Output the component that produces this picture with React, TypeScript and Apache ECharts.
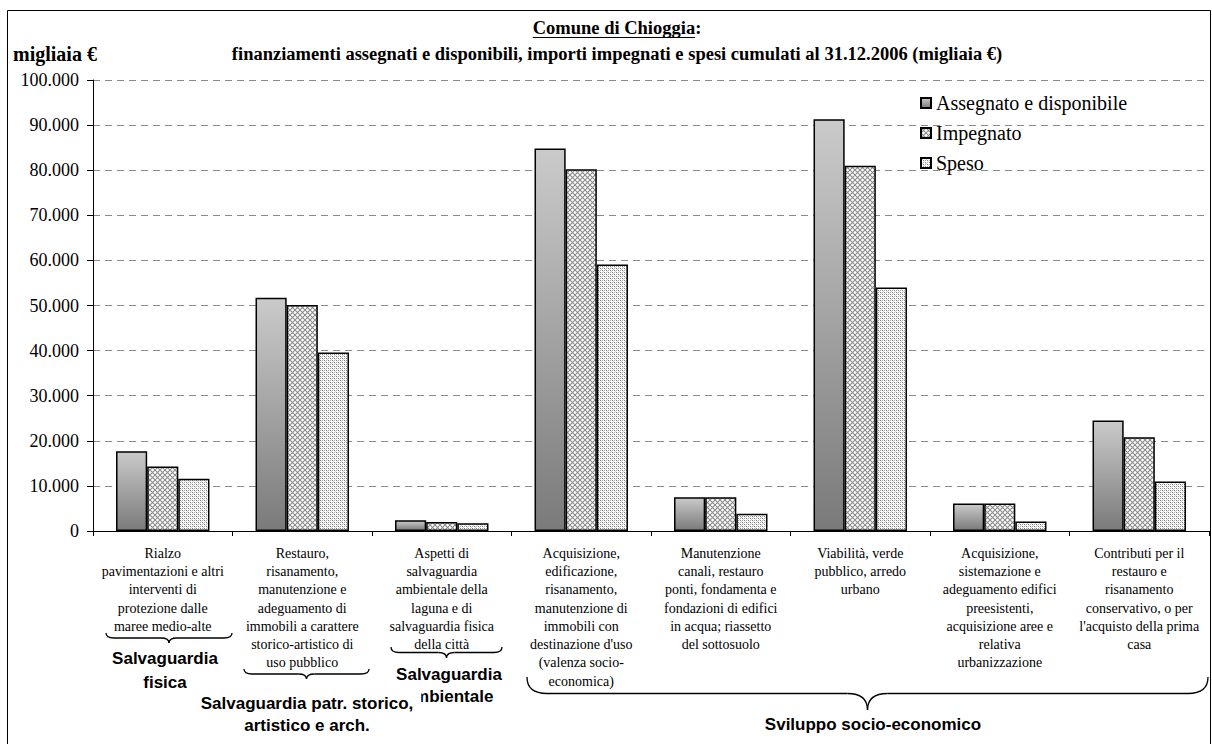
import React, { useEffect, useRef } from "react";
import * as echarts from "echarts";

const categories = [
  "Rialzo\npavimentazioni e altri\ninterventi di\nprotezione dalle\nmaree medio-alte",
  "Restauro,\nrisanamento,\nmanutenzione e\nadeguamento di\nimmobili a carattere\nstorico-artistico di\nuso pubblico",
  "Aspetti di\nsalvaguardia\nambientale della\nlaguna e di\nsalvaguardia fisica\ndella città",
  "Acquisizione,\nedificazione,\nrisanamento,\nmanutenzione di\nimmobili con\ndestinazione d'uso\n(valenza socio-\neconomica)",
  "Manutenzione\ncanali, restauro\nponti, fondamenta e\nfondazioni di edifici\nin acqua; riassetto\ndel sottosuolo",
  "Viabilità, verde\npubblico, arredo\nurbano",
  "Acquisizione,\nsistemazione e\nadeguamento edifici\npreesistenti,\nacquisizione aree e\nrelativa\nurbanizzazione",
  "Contributi per il\nrestauro e\nrisanamento\nconservativo, o per\nl'acquisto della prima\ncasa",
];

const seriesNames = ["Assegnato e disponibile", "Impegnato", "Speso"];
const assegnato = [17700, 51700, 2400, 84800, 7500, 91300, 6100, 24500];
const impegnato = [14300, 50100, 2000, 80200, 7500, 81000, 6100, 20800];
const speso = [11600, 39600, 1700, 59100, 3800, 54000, 2100, 11000];

const yMin = 0;
const yMax = 100000;
const yInterval = 10000;

const titleLine1 = "Comune di Chioggia:";
const titleUnderlined = "Comune di Chioggia";
const titleLine2 =
  "finanziamenti assegnati e disponibili, importi impegnati e spesi cumulati al 31.12.2006 (migliaia €)";
const yUnit = "migliaia €";

const groupFisica = "Salvaguardia\nfisica";
const groupStorico = "Salvaguardia patr. storico,\nartistico e arch.";
const groupAmbientale = "Salvaguardia\nambientale";
const groupSviluppo = "Sviluppo socio-economico";

function fmt(v: number) {
  if (v === 0) return "0";
  return String(v).replace(/\B(?=(\d{3})+(?!\d))/g, ".");
}

function makeCross() {
  const c = document.createElement("canvas");
  c.width = 5;
  c.height = 5;
  const g = c.getContext("2d")!;
  g.fillStyle = "#ffffff";
  g.fillRect(0, 0, 5, 5);
  g.strokeStyle = "#8c8c8c";
  g.lineWidth = 1.1;
  g.beginPath();
  g.moveTo(0, 0);
  g.lineTo(5, 5);
  g.moveTo(5, 0);
  g.lineTo(0, 5);
  g.stroke();
  return c;
}

function makeDots() {
  const c = document.createElement("canvas");
  c.width = 4;
  c.height = 4;
  const g = c.getContext("2d")!;
  g.fillStyle = "#ffffff";
  g.fillRect(0, 0, 4, 4);
  g.fillStyle = "#7c7c7c";
  g.fillRect(0, 0, 1, 1);
  g.fillRect(2, 2, 1, 1);
  g.fillStyle = "#a4a4a4";
  g.fillRect(2, 0, 1, 1);
  g.fillRect(0, 2, 1, 1);
  g.fillStyle = "#cfcfcf";
  g.fillRect(1, 1, 1, 1);
  g.fillRect(3, 3, 1, 1);
  return c;
}

function brace(x1: number, x2: number, y0: number, h: number, r: number) {
  const ym = y0 + h * 0.5;
  const tip = y0 + h;
  const xc = (x1 + x2) / 2;
  const st = { stroke: "#000", lineWidth: 1.3, fill: null as any };
  return {
    type: "group",
    silent: true,
    children: [
      { type: "bezierCurve", shape: { x1: x1, y1: y0, cpx1: x1, cpy1: ym, x2: x1 + r, y2: ym }, style: st },
      { type: "line", shape: { x1: x1 + r, y1: ym, x2: xc - r, y2: ym }, style: st },
      { type: "bezierCurve", shape: { x1: xc - r, y1: ym, cpx1: xc, cpy1: ym, x2: xc, y2: tip }, style: st },
      { type: "bezierCurve", shape: { x1: xc, y1: tip, cpx1: xc, cpy1: ym, x2: xc + r, y2: ym }, style: st },
      { type: "line", shape: { x1: xc + r, y1: ym, x2: x2 - r, y2: ym }, style: st },
      { type: "bezierCurve", shape: { x1: x2 - r, y1: ym, cpx1: x2, cpy1: ym, x2: x2, y2: y0 }, style: st },
    ],
  };
}

export default function App() {
  const ref = useRef<HTMLDivElement>(null);

  useEffect(() => {
    const el = ref.current!;
    const chart = echarts.init(el, null, { renderer: "svg" });

    const serif = "'Liberation Serif', 'Times New Roman', serif";

    const measure = (t: string, font: string) => {
      const c = document.createElement("canvas").getContext("2d")!;
      c.font = font;
      return c.measureText(t).width;
    };
    const titleFont = "bold 18.5px 'Liberation Serif'";
    const titleCx = 617;
    const w1 = measure(titleLine1, titleFont);
    const wu = measure(titleUnderlined, titleFont);
    const ulStart = titleCx - w1 / 2;

    const gradient = new echarts.graphic.LinearGradient(0, 0, 0, 1, [
      { offset: 0, color: "#cacaca" },
      { offset: 1, color: "#7a7a7a" },
    ]);
    const cross = { image: makeCross(), repeat: "repeat" } as any;
    const dots = { image: makeDots(), repeat: "repeat" } as any;

    const barStyle = (color: any) => ({ color, borderColor: "#000", borderWidth: 1.5 });
    const groupFont = "bold 17px 'Liberation Sans'";

    chart.setOption({
      animation: false,
      backgroundColor: "#ffffff",
      grid: { left: 93, right: 3, top: 80, bottom: 213, containLabel: false },
      legend: {
        orient: "vertical",
        left: 920,
        top: 93,
        itemWidth: 10,
        itemHeight: 10,
        itemGap: 10,
        icon: "rect",
        padding: 0,
        textStyle: { fontFamily: serif, fontSize: 20, color: "#000" },
        data: seriesNames,
      },
      xAxis: {
        type: "category",
        data: categories,
        boundaryGap: true,
        axisLine: { show: true, lineStyle: { color: "#000", width: 1 } },
        axisTick: { show: true, alignWithLabel: false, length: 5, lineStyle: { color: "#000" } },
        axisLabel: {
          interval: 0,
          margin: 13,
          fontFamily: serif,
          fontSize: 14,
          lineHeight: 18.3,
          color: "#000",
        },
      },
      yAxis: {
        type: "value",
        min: yMin,
        max: yMax,
        interval: yInterval,
        axisLine: { show: true, lineStyle: { color: "#000", width: 1 } },
        axisTick: { show: true, inside: false, length: 6, lineStyle: { color: "#000" } },
        axisLabel: {
          formatter: (v: number) => fmt(v),
          fontFamily: serif,
          fontSize: 18,
          color: "#000",
          margin: 14,
        },
        splitLine: { show: true, lineStyle: { color: "#8a8a8a", width: 1, type: [7, 5] } },
      },
      series: [
        { name: seriesNames[0], type: "bar", data: assegnato, barGap: "0%", barCategoryGap: "33%", itemStyle: barStyle(gradient) },
        { name: seriesNames[1], type: "bar", data: impegnato, barGap: "0%", barCategoryGap: "33%", itemStyle: barStyle(cross) },
        { name: seriesNames[2], type: "bar", data: speso, barGap: "0%", barCategoryGap: "33%", itemStyle: barStyle(dots) },
      ],
      graphic: [
        {
          type: "rect",
          silent: true,
          shape: { x: 7.5, y: 10.5, width: 1203, height: 760 },
          style: { fill: null, stroke: "#000", lineWidth: 1 },
          z: 100,
        },
        {
          type: "text",
          x: titleCx,
          y: 28,
          style: { text: titleLine1, font: titleFont, fill: "#000", textAlign: "center", textVerticalAlign: "middle" },
        },
        {
          type: "line",
          silent: true,
          shape: { x1: ulStart, y1: 37.5, x2: ulStart + wu, y2: 37.5 },
          style: { stroke: "#000", lineWidth: 1 },
        },
        {
          type: "text",
          x: titleCx,
          y: 54,
          style: { text: titleLine2, font: titleFont, fill: "#000", textAlign: "center", textVerticalAlign: "middle" },
        },
        {
          type: "text",
          x: 13,
          y: 54,
          style: { text: yUnit, font: "bold 20px 'Liberation Serif'", fill: "#000", textAlign: "left", textVerticalAlign: "middle" },
        },
        brace(106, 232, 633, 10, 8),
        brace(244, 369, 669, 10, 8),
        brace(391, 502, 647, 11, 8),
        brace(527, 1208, 677, 33, 20),
        {
          type: "text",
          x: 165,
          y: 670,
          style: {
            text: groupFisica,
            font: groupFont,
            lineHeight: 24,
            fill: "#000",
            textAlign: "center",
            textVerticalAlign: "middle",
          },
        },
        {
          type: "text",
          x: 449,
          y: 685,
          style: {
            text: groupAmbientale,
            font: groupFont,
            lineHeight: 22,
            fill: "#000",
            textAlign: "center",
            textVerticalAlign: "middle",
          },
        },
        {
          type: "text",
          x: 310,
          y: 714,
          z: 10,
          style: {
            text: groupStorico,
            font: groupFont,
            lineHeight: 22,
            fill: "#000",
            textAlign: "center",
            textVerticalAlign: "middle",
            backgroundColor: "#ffffff",
            padding: [6, 8, 2, 2],
          },
        },
        {
          type: "text",
          x: 873,
          y: 724,
          style: {
            text: groupSviluppo,
            font: groupFont,
            fill: "#000",
            textAlign: "center",
            textVerticalAlign: "middle",
          },
        },
      ],
    });

    return () => {
      chart.dispose();
    };
  }, []);

  return (
    <div
      ref={ref}
      style={{ position: "absolute", left: 0, top: 0, width: 1212, height: 744, background: "#fff" }}
    />
  );
}
